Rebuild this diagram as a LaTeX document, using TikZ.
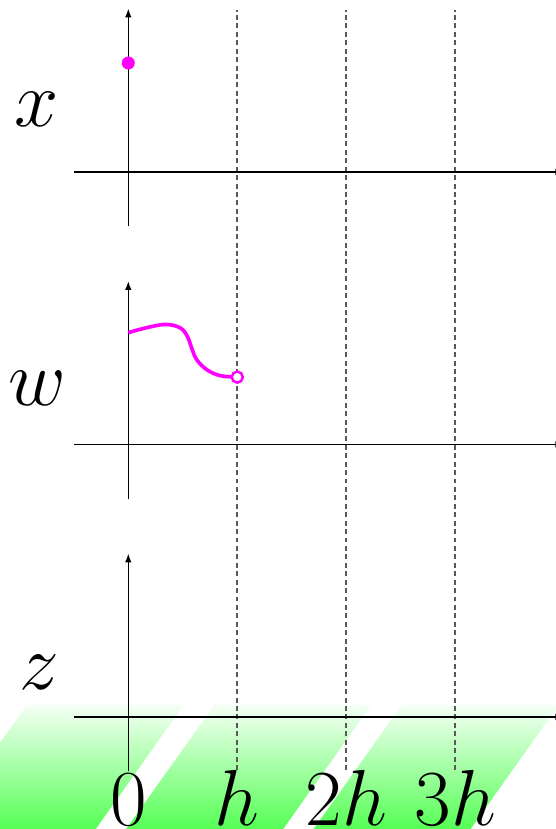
\documentclass[tikz,border=0pt]{standalone}
\usepackage{tikz}
\usetikzlibrary{arrows.meta}
\definecolor{TrajMagenta}{HTML}{FF00FF}
\definecolor{GroundGreen}{HTML}{55FF55}

\begin{document}
\begin{tikzpicture}[
    axis/.style={-{Latex[length=2.3pt,width=1.7pt]}, line width=0.4pt},
    gridline/.style={black!65, dash pattern=on 1.3pt off 0.9pt, line width=0.45pt},
    varlabel/.style={font=\huge, anchor=base},
    ticklabel/.style={font=\huge, anchor=base},
    traj/.style={TrajMagenta, line width=0.95pt},
    statedot/.style={circle, fill=TrajMagenta, inner sep=0pt, minimum size=3.4pt},
    openend/.style={circle, draw=TrajMagenta, fill=white, line width=0.65pt,
                    inner sep=0pt, minimum size=2.9pt}
]
  \useasboundingbox (-1.177,0) rectangle (3.924,7.606);
  \clip (-1.177,0) rectangle (3.924,7.606);

  \foreach \s in {-0.931, 0.789, 2.509}
    \shade[top color=GroundGreen!6, bottom color=GroundGreen]
      (\s-0.808,0) -- (\s,1.138) -- (\s+1.44,1.138) -- (\s+1.44-0.808,0) -- cycle;

  \foreach \i in {1,2,3}
    \draw[gridline] (\i,0.541) -- (\i,7.514);

  \foreach \y in {6.028, 3.528, 1.028} {
    \draw[axis] (-0.5,\y) -- (4.0,\y);
    \draw[axis] (0,\y-0.5) -- (0,\y+1.5);
  }

  \node[varlabel] (labx) at (-0.839,6.445) {$x$};
  \node[varlabel] (labw) at (-0.830,3.890) {$w$};
  \node[varlabel] (labz) at (-0.817,1.284) {$z$};

  \node[ticklabel] (t0) at (0,0.036) {$0$};
  \node[ticklabel] (t1) at (1,0.036) {$h$};
  \node[ticklabel] (t2) at (2,0.036) {$2h$};
  \node[ticklabel] (t3) at (3,0.036) {$3h$};

  \node[statedot] (x0) at (0,7.028) {};

  \draw[traj] plot[smooth, tension=0.6] coordinates {
    (0,4.553) (0.138,4.592) (0.337,4.629) (0.474,4.599) (0.541,4.522)
    (0.581,4.414) (0.627,4.307) (0.719,4.215) (0.841,4.160) (1,4.146)};
  \node[openend] (wend) at (1,4.146) {};
\end{tikzpicture}
\end{document}
